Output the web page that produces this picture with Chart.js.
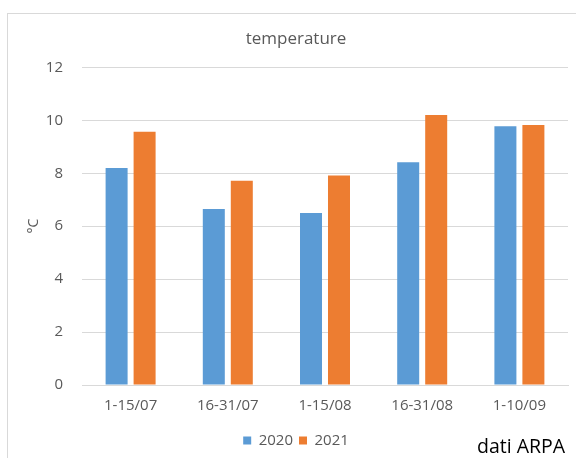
<!DOCTYPE html>
<html>
<head>
<meta charset="utf-8">
<script src="https://cdn.jsdelivr.net/npm/chart.js@4"></script>
<style>
  html, body { margin: 0; padding: 0; background: #fff; }
  #wrap { position: relative; width: 576px; height: 458px; overflow: hidden; }
  #frame { position: absolute; left: 7px; top: 13px; width: 600px; height: 500px;
           border-left: 1px solid #d9d9d9; border-top: 1px solid #d9d9d9; }
  #chart { position: absolute; left: 0; top: 0; }
  #note { position: absolute; left: 477px; top: 432px; font-family: "Open Sans", sans-serif;
          font-size: 19.5px; color: #000; white-space: nowrap; }
</style>
</head>
<body>
<div id="wrap">
  <div id="frame"></div>
  <canvas id="chart" width="576" height="458"></canvas>
  <div id="note">dati ARPA</div>
</div>
<script>
  // periodi e temperature medie
  var periods = ['1-15/07', '16-31/07', '1-15/08', '16-31/08', '1-10/09'];
  var temp2020 = [8.2, 6.65, 6.5, 8.42, 9.78];
  var temp2021 = [9.57, 7.72, 7.92, 10.2, 9.82];
  var yTicks = [0, 2, 4, 6, 8, 10, 12];

  var textColor = '#595959';
  var fontFamily = '"Open Sans", sans-serif';

  var ctx = document.getElementById('chart').getContext('2d');
  var chart = new Chart(ctx, {
    type: 'bar',
    data: {
      labels: periods,
      datasets: [{
        label: '2020',
        data: temp2020,
        backgroundColor: '#5b9bd5',
        categoryPercentage: 0.576,
        barPercentage: 0.786
      }, {
        label: '2021',
        data: temp2021,
        backgroundColor: '#ed7d31',
        categoryPercentage: 0.576,
        barPercentage: 0.786
      }]
    },
    options: {
      responsive: false,
      animation: false,
      layout: { padding: { left: 24, right: 8, top: 0, bottom: 0 } },
      plugins: {
        title: {
          display: true,
          text: 'temperature',
          color: textColor,
          font: { family: fontFamily, size: 17, weight: 'normal' },
          padding: { top: 29, bottom: 18 }
        },
        legend: {
          position: 'bottom',
          labels: {
            color: textColor,
            font: { family: fontFamily, size: 15 },
            boxWidth: 8,
            boxHeight: 8,
            padding: 6
          }
        },
        tooltip: { enabled: false }
      },
      scales: {
        x: {
          grid: { display: false, drawTicks: false },
          border: { color: '#d9d9d9' },
          ticks: { color: textColor, font: { family: fontFamily, size: 15 }, padding: 12, maxRotation: 0 }
        },
        y: {
          min: 0,
          max: 12,
          afterBuildTicks: function (scale) {
            scale.ticks = yTicks.map(function (v) { return { value: v }; });
          },
          afterFit: function (scale) { scale.width = 58; },
          grid: { color: '#d9d9d9', drawTicks: false },
          border: { display: false },
          ticks: { color: textColor, font: { family: fontFamily, size: 15 }, padding: 19 },
          title: {
            display: true,
            text: '°C',
            color: textColor,
            font: { family: fontFamily, size: 14 },
            padding: { top: 2, bottom: 0 }
          }
        }
      }
    }
  });
</script>
</body>
</html>
